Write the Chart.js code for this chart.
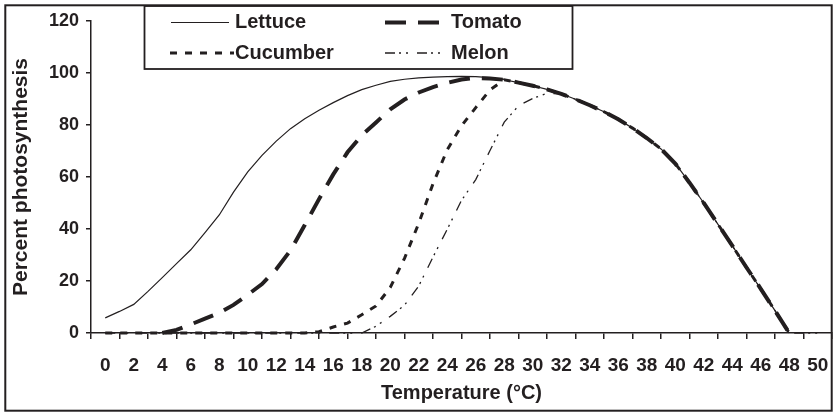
<!DOCTYPE html>
<html>
<head>
<meta charset="utf-8">
<script src="https://cdn.jsdelivr.net/npm/chart.js@4/dist/chart.umd.min.js"></script>
<style>
html,body{margin:0;padding:0;background:#fff;}
#wrap{position:relative;width:833px;height:412px;}
canvas{display:block;}
</style>
</head>
<body>
<div id="wrap"><canvas id="c" width="833" height="412"></canvas></div>
<script>
// ---- data ----
const temperature = [0,1,2,3,4,5,6,7,8,9,10,11,12,13,14,15,16,17,18,19,20,21,22,23,24,25,26,27,28,29,30,31,32,33,34,35,36,37,38,39,40,41,42,43,44,45,46,47,48,49,50];
const xTickLabels = [0,2,4,6,8,10,12,14,16,18,20,22,24,26,28,30,32,34,36,38,40,42,44,46,48,50];
const yTickLabels = [0,20,40,60,80,100,120];
const seriesNames = ['Lettuce','Tomato','Cucumber','Melon'];

const lettuce = [5.8,8.3,11,16,21.3,26.7,32,38.6,45.4,54.2,62,68.3,73.8,78.6,82.4,85.7,88.6,91.3,93.6,95.3,96.8,97.6,98.1,98.4,98.6,98.7,98.6,98.2,97.4,96.3,95.1,93.7,92,89.9,87.6,85.1,82.2,78.8,75,70.8,65.2,57.8,50,41.8,33.6,25.2,17,8.6,0,null,null];
const tomato = [null,null,null,null,0,1.2,3.3,5.5,7.8,10.8,14.7,18.8,24.5,31.8,41.5,51.5,61,69.5,76,81,86,89.8,92.5,94.6,96.2,97.5,98.1,97.9,97.4,96.3,95.1,93.7,92,89.9,87.6,85.1,82.2,78.8,75,70.8,65.2,57.8,50,41.8,33.6,25.2,17,8.6,0,null,null];
const cucumber = [0,0,0,0,0,0,0,0,0,0,0,0,0,0,0,0.5,2.3,3.8,7,10.4,17.5,28.7,42.2,57.4,70.5,79.7,86.7,93.5,97.4,96.3,95.1,93.7,92,89.9,87.6,85.1,82.2,78.8,75,70.8,65.2,57.8,50,41.8,33.6,25.2,17,8.6,0,null,null];
const melon = [0,0,0,0,0,0,0,0,0,0,0,0,0,0,0,0,0,0,0,2.6,6.4,10.7,18.1,29.2,39.9,51,59,70.2,81.1,87.4,90.2,92.2,92,89.9,87.6,85.1,82.2,78.8,75,70.8,65.2,57.8,50,41.8,33.6,25.2,17,8.6,0,0,0];

// ---- styling ----
const INK = '#231f20';
const FONT = '"Liberation Sans", Arial, Helvetica, sans-serif';
Chart.defaults.font.family = FONT;
Chart.defaults.color = INK;

function pts(arr){ return temperature.map((t,i)=>({x:t, y:arr[i]})); }

const seriesValues = [lettuce, tomato, cucumber, melon];
const styles = [
  {borderWidth:1.2, borderDash:[]},
  {borderWidth:4, borderDash:[21,12]},
  {borderWidth:3, borderDash:[7,8]},
  {borderWidth:1.3, borderDash:[10,4,2,5,2,9]}
];

const datasets = seriesNames.map((name,i)=>({
  label: name,
  data: pts(seriesValues[i]),
  borderColor: INK,
  backgroundColor: INK,
  borderWidth: styles[i].borderWidth,
  borderDash: styles[i].borderDash,
  borderCapStyle: 'butt',
  pointRadius: 0,
  tension: 0,
  fill: false,
  spanGaps: false,
  clip: 8
}));

const legendPos = [
  {x0:171, x1:229, tx:235, y:22.5},
  {x0:385, x1:440, tx:451, y:22.5},
  {x0:170, x1:234, tx:235, y:53},
  {x0:385, x1:440, tx:451, y:53}
];

const framePlugin = {
  id: 'frameAndLegend',
  afterDraw(chart){
    const ctx = chart.ctx;
    ctx.save();
    ctx.fillStyle = '#fff';
    ctx.fillRect(144.5, 6, 428, 63);
    ctx.lineWidth = 1.8;
    ctx.strokeStyle = INK;
    ctx.setLineDash([]);
    ctx.strokeRect(144.5, 6, 428, 63);
    chart.data.datasets.forEach((ds,i)=>{
      const p = legendPos[i];
      ctx.beginPath();
      ctx.setLineDash(ds.borderDash || []);
      ctx.lineWidth = ds.borderWidth;
      ctx.lineCap = 'butt';
      ctx.strokeStyle = INK;
      ctx.moveTo(p.x0, p.y);
      ctx.lineTo(p.x1, p.y);
      ctx.stroke();
      ctx.setLineDash([]);
      ctx.font = 'bold 20px ' + FONT;
      ctx.textBaseline = 'middle';
      ctx.textAlign = 'left';
      ctx.fillStyle = INK;
      ctx.fillText(ds.label, p.tx, p.y);
    });
    ctx.lineWidth = 2;
    ctx.strokeStyle = INK;
    ctx.strokeRect(5.3, 5.3, 826.4, 405.4);
    ctx.restore();
  }
};

new Chart(document.getElementById('c'), {
  type: 'line',
  data: { datasets },
  plugins: [framePlugin],
  options: {
    responsive: false,
    animation: false,
    devicePixelRatio: 1,
    layout: { padding: {left:0, top:21, right:1, bottom:0} },
    plugins: { legend: {display:false}, tooltip: {enabled:false} },
    scales: {
      x: {
        type: 'linear',
        min: -1,
        max: 51,
        afterFit(s){ s.height = 79; s.paddingLeft = 0; s.paddingRight = 0; },
        ticks: {
          stepSize: 1,
          autoSkip: false,
          maxRotation: 0,
          minRotation: 0,
          padding: 15,
          color: INK,
          font: {size:19, weight:'bold'},
          callback: (v)=> xTickLabels.includes(v) ? String(v) : ''
        },
        grid: {
          drawOnChartArea: false,
          drawTicks: true,
          tickLength: 6,
          lineWidth: 1.5,
          color: (c)=> (c.tick && (((c.tick.value % 2) + 2) % 2 === 1)) ? INK : 'rgba(0,0,0,0)'
        },
        border: { display:true, color: INK, width: 1.5 },
        title: {
          display: true,
          text: 'Temperature (°C)',
          color: INK,
          font: {size:20, weight:'bold'},
          padding: {top:0, bottom:7}
        }
      },
      y: {
        min: 0,
        max: 120,
        afterFit(s){ s.width = 91; s.paddingTop = 0; s.paddingBottom = 0; },
        ticks: {
          stepSize: 20,
          padding: 7,
          color: INK,
          font: {size:18, weight:'bold'},
          callback: (v)=> yTickLabels.includes(v) ? String(v) : ''
        },
        grid: {
          drawOnChartArea: false,
          drawTicks: true,
          tickLength: 5,
          lineWidth: 1.5,
          color: INK
        },
        border: { display:true, color: INK, width: 1.5 },
        title: {
          display: true,
          text: 'Percent photosynthesis',
          color: INK,
          font: {size:21, weight:'bold'},
          padding: {top:9, bottom:0}
        }
      }
    }
  }
});
</script>
</body>
</html>
